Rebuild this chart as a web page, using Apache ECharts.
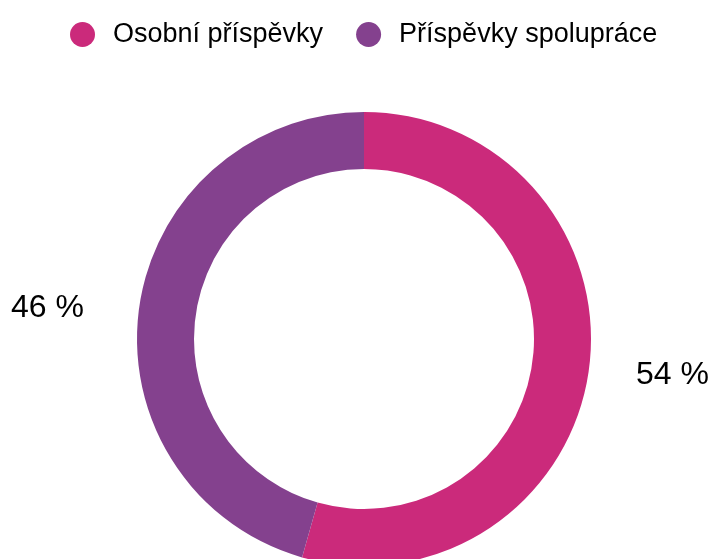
<!DOCTYPE html>
<html>
<head>
<meta charset="utf-8">
<script src="https://cdn.jsdelivr.net/npm/echarts@6/dist/echarts.min.js"></script>
<style>
  html, body { margin: 0; padding: 0; background: #fff; }
  #chart { width: 713px; height: 559px; }
</style>
</head>
<body>
<div id="chart"></div>
<script>
// data (slice sizes read from the ring, labels show rounded percent)
var categories = ["Osobní příspěvky", "Příspěvky spolupráce"];
var values = [54.4, 45.6];
var colors = ["#cb2a7b", "#84418e"];

var chart = echarts.init(document.getElementById("chart"));

// label placement tweaks per slice (right side, left side)
var labelTweaks = [
  { edgeDistance: 4, lineLength: 38 },
  { edgeDistance: 11, lineLength: -6 }
];

var pieData = categories.map(function (name, i) {
  return {
    name: name,
    value: values[i],
    itemStyle: { color: colors[i] },
    label: { edgeDistance: labelTweaks[i].edgeDistance },
    labelLine: { length: labelTweaks[i].lineLength }
  };
});

chart.setOption({
  backgroundColor: "#fff",
  animation: false,
  legend: {
    data: categories,
    top: 16,
    left: 65,
    icon: "circle",
    itemWidth: 25,
    itemHeight: 25,
    itemGap: 33,
    textStyle: {
      fontFamily: "Liberation Sans",
      fontSize: 27,
      color: "#000",
      padding: [0, 0, 0, 13]
    }
  },
  series: [
    {
      type: "pie",
      center: [364, 339],
      radius: [170, 227],
      startAngle: 90,
      clockwise: true,
      data: pieData,
      label: {
        show: true,
        position: "outside",
        alignTo: "edge",
        formatter: function (p) {
          return Math.round(p.value) + " %";
        },
        fontFamily: "Liberation Sans",
        fontSize: 32,
        color: "#000",
        overflow: "none"
      },
      labelLine: {
        show: false,
        length2: 0
      },
      emphasis: { disabled: true }
    }
  ]
});
</script>
</body>
</html>
